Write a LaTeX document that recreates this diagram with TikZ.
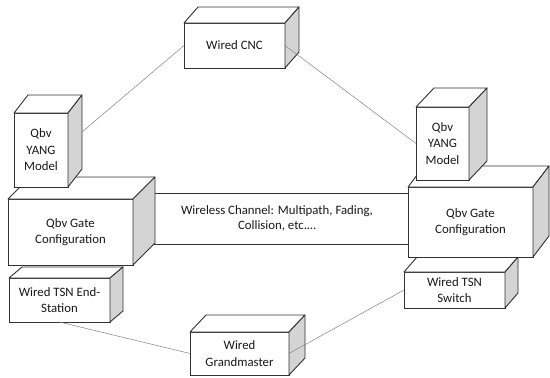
\documentclass[tikz,border=0pt]{standalone}
\usepackage{fontspec}
\setmainfont{Carlito}
\usetikzlibrary{calc}
\definecolor{sidegray}{RGB}{212,212,212}
\definecolor{edge}{RGB}{50,50,50}
\definecolor{wire}{RGB}{130,130,130}
\tikzset{
  front/.style={draw=edge, line width=0.9pt, fill=white, align=center, inner sep=1pt, outer sep=0pt,
    font=\fontsize{12.8}{16.5}\selectfont, text=black!90},
  face/.style={draw=edge, line width=0.9pt, line join=round},
  wireline/.style={draw=wire, line width=0.5pt},
}
\newcommand{\cubebox}[8]{%
  \node[front, minimum width=#4, minimum height=#5] (#1) at (#2,#3) {#8};
  \draw[face, fill=white] (#1.north west) -- ++(#6,#7) -- ($(#1.north east)+(#6,#7)$) -- (#1.north east) -- cycle;
  \draw[face, fill=sidegray] (#1.north east) -- ++(#6,#7) -- ($(#1.south east)+(#6,#7)$) -- (#1.south east) -- cycle;
  \coordinate (#1-side) at ($(#1.east)+(#6,#7)$);
}
\begin{document}
\begin{tikzpicture}[x=1pt,y=-1pt]
\useasboundingbox (0,0) rectangle (550,378);
% wireless channel
\node[front, minimum width=264pt, minimum height=51pt] (wch) at (277,218.5)
  {Wireless Channel: Multipath, Fading,\\[-1.5pt]Collision, etc.\dots};
% top
\cubebox{cnc}{234.5}{45.5}{101pt}{45pt}{14}{-16}{Wired CNC}
% left stack
\cubebox{lend}{59.5}{300}{101pt}{44pt}{13}{-11}{Wired TSN End-\\Station}
\cubebox{lconf}{70.5}{232}{125pt}{66pt}{22}{-22}{Qbv Gate\\Configuration}
\cubebox{lyang}{41}{150}{54pt}{74pt}{14}{-18}{Qbv\\YANG\\Model}
% right stack
\cubebox{rsw}{454.5}{290}{101pt}{36pt}{13}{-15}{Wired TSN\\Switch}
\cubebox{rconf}{470.5}{222}{125pt}{70pt}{16}{-21}{Qbv Gate\\Configuration}
\cubebox{ryang}{442.5}{143.5}{53pt}{73pt}{18}{-19}{Qbv\\YANG\\Model}
% bottom
\cubebox{gm}{239.5}{353.5}{99pt}{43pt}{16}{-17}{Wired\\Grandmaster}
% connectors
\draw[wireline] (cnc.west) -- (lyang-side);
\draw[wireline] (cnc.east) -- (ryang.west);
\draw[wireline] (lend.south) -- (gm.west);
\draw[wireline] (gm.east) -- (rsw.west);
\end{tikzpicture}
\end{document}
